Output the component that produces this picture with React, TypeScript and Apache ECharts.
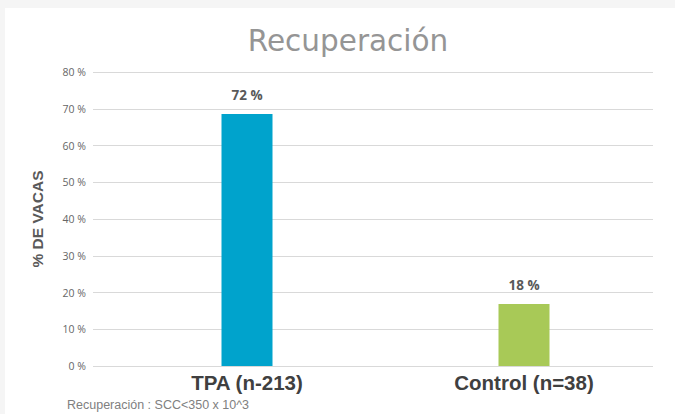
import React, { useEffect, useRef } from "react";
import * as echarts from "echarts";

const categories = ["TPA (n-213)", "Control (n=38)"];
const barValues = [68.6, 16.9];
const barLabels = ["72 %", "18 %"];
const barColors = ["#00a3cc", "#a8c957"];
const yTicks = [0, 10, 20, 30, 40, 50, 60, 70, 80];
const titleText = "Recuperación";
const yAxisName = "% DE VACAS";
const footnote = "Recuperación : SCC<350 x 10^3";

export default function App() {
  const ref = useRef<HTMLDivElement>(null);
  useEffect(() => {
    document.body.style.margin = "0";
    document.body.style.background = "#f5f5f5";
    const chart = echarts.init(ref.current!, null, { renderer: "svg" });
    const top = 64;
    const bottom = 48;
    chart.setOption({
      animation: false,
      title: {
        text: titleText,
        left: 338,
        textAlign: "center",
        top: 13,
        textStyle: {
          fontFamily: "DejaVu Sans",
          fontSize: 29.5,
          fontWeight: "normal",
          color: "#959595",
        },
      },
      grid: [
        { left: 88, right: 22, top, bottom },
        { left: 103.5, right: 12.5, top, bottom },
      ],
      xAxis: [
        { type: "category", gridIndex: 0, data: categories, show: false },
        {
          type: "category",
          gridIndex: 1,
          data: categories,
          axisLine: { show: false },
          axisTick: { show: false },
          axisLabel: {
            margin: 6,
            fontFamily: "Liberation Sans",
            fontWeight: "bold",
            fontSize: 20.5,
            color: "#404040",
          },
        },
      ],
      yAxis: [
        {
          type: "value",
          gridIndex: 0,
          min: yTicks[0],
          max: yTicks[yTicks.length - 1],
          interval: 10,
          name: yAxisName,
          nameLocation: "middle",
          nameGap: 48,
          nameTextStyle: {
            fontFamily: "Liberation Sans",
            fontWeight: "bold",
            fontSize: 15.5,
            color: "#595959",
          },
          axisLine: { show: false },
          axisTick: { show: false },
          axisLabel: {
            margin: 7,
            fontFamily: "Open Sans",
            fontSize: 10.5,
            color: "#666666",
            formatter: (v: number) => `${v} %`,
          },
          splitLine: { lineStyle: { color: "#d9d9d9", width: 1 } },
        },
        {
          type: "value",
          gridIndex: 1,
          min: yTicks[0],
          max: yTicks[yTicks.length - 1],
          interval: 10,
          show: false,
          splitLine: { show: false },
        },
      ],
      series: [
        {
          type: "bar",
          xAxisIndex: 1,
          yAxisIndex: 1,
          barWidth: 51,
          data: barValues.map((v, i) => ({
            value: v,
            itemStyle: { color: barColors[i] },
            label: { formatter: barLabels[i] },
          })),
          label: {
            show: true,
            position: "top",
            distance: 12,
            fontFamily: "Open Sans",
            fontWeight: "bold",
            fontSize: 13.5,
            color: "#595959",
          },
        },
      ],
      graphic: [
        {
          type: "text",
          left: 62,
          top: 390,
          style: {
            text: footnote,
            fontFamily: "Liberation Sans",
            fontSize: 12.5,
            fill: "#808080",
          },
        },
      ],
    });
    return () => chart.dispose();
  }, []);
  return (
    <div
      style={{
        position: "absolute",
        left: 5,
        top: 8,
        width: 670,
        height: 406,
        background: "#ffffff",
      }}
    >
      <div ref={ref} style={{ width: 670, height: 406 }} />
    </div>
  );
}
